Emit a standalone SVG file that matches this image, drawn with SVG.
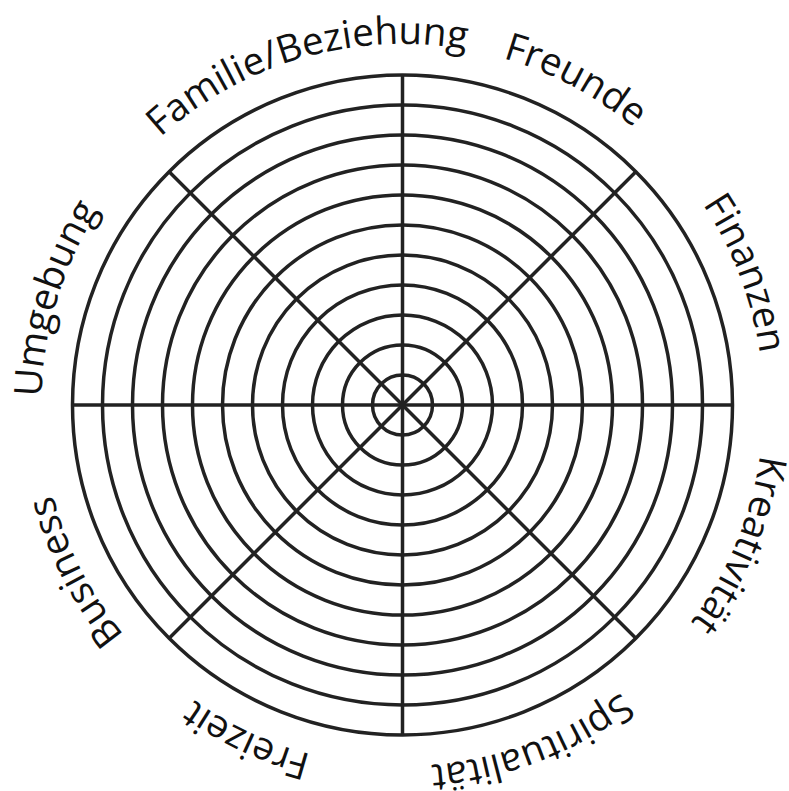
<svg xmlns="http://www.w3.org/2000/svg" xmlns:xlink="http://www.w3.org/1999/xlink" width="789" height="791" viewBox="0 0 789 791">
<style>
.ring{fill:none;stroke:#222;stroke-width:3.5}
.spoke{stroke:#222;stroke-width:3.5}
.lbl{font-family:"Open Sans","Noto Sans","Liberation Sans",sans-serif;font-size:38.5px;font-weight:400;fill:#111;text-anchor:middle}
</style>
<defs>
<path id="lp" d="M 41.5,405 A 361 361 0 1 1 763.5,405 A 361 361 0 1 1 41.5,405"/>
</defs>
<rect width="789" height="791" fill="#fff"/>
<g id="rings">
<circle class="ring" cx="402.5" cy="405" r="30"/>
<circle class="ring" cx="402.5" cy="405" r="60"/>
<circle class="ring" cx="402.5" cy="405" r="90"/>
<circle class="ring" cx="402.5" cy="405" r="120"/>
<circle class="ring" cx="402.5" cy="405" r="150"/>
<circle class="ring" cx="402.5" cy="405" r="180"/>
<circle class="ring" cx="402.5" cy="405" r="210"/>
<circle class="ring" cx="402.5" cy="405" r="240"/>
<circle class="ring" cx="402.5" cy="405" r="270"/>
<circle class="ring" cx="402.5" cy="405" r="300"/>
<circle class="ring" cx="402.5" cy="405" r="330"/>
</g>
<g id="spokes">
<line class="spoke" x1="402.5" y1="75" x2="402.5" y2="735"/>
<line class="spoke" x1="72.5" y1="405" x2="732.5" y2="405"/>
<line class="spoke" x1="169.15" y1="171.65" x2="635.85" y2="638.35"/>
<line class="spoke" x1="635.85" y1="171.65" x2="169.15" y2="638.35"/>
</g>
<g id="labels">
<g id="umgebung"><text class="lbl"><textPath xlink:href="#lp" href="#lp" startOffset="4.72%">Umgebung</textPath></text></g>
<g id="familie"><text class="lbl"><textPath xlink:href="#lp" href="#lp" startOffset="20.56%">Familie/Beziehung</textPath></text></g>
<g id="freunde"><text class="lbl"><textPath xlink:href="#lp" href="#lp" startOffset="32.78%">Freunde</textPath></text></g>
<g id="finanzen"><text class="lbl"><textPath xlink:href="#lp" href="#lp" startOffset="44.17%">Finanzen</textPath></text></g>
<g id="kreativitaet"><text class="lbl"><textPath xlink:href="#lp" href="#lp" startOffset="56.25%">Kreativität</textPath></text></g>
<g id="spiritualitaet"><text class="lbl"><textPath xlink:href="#lp" href="#lp" startOffset="69.2%">Spiritualität</textPath></text></g>
<g id="freizeit"><text class="lbl"><textPath xlink:href="#lp" href="#lp" startOffset="81.94%">Freizeit</textPath></text></g>
<g id="business"><text class="lbl"><textPath xlink:href="#lp" href="#lp" startOffset="92.5%">Business</textPath></text></g>
</g>
</svg>
